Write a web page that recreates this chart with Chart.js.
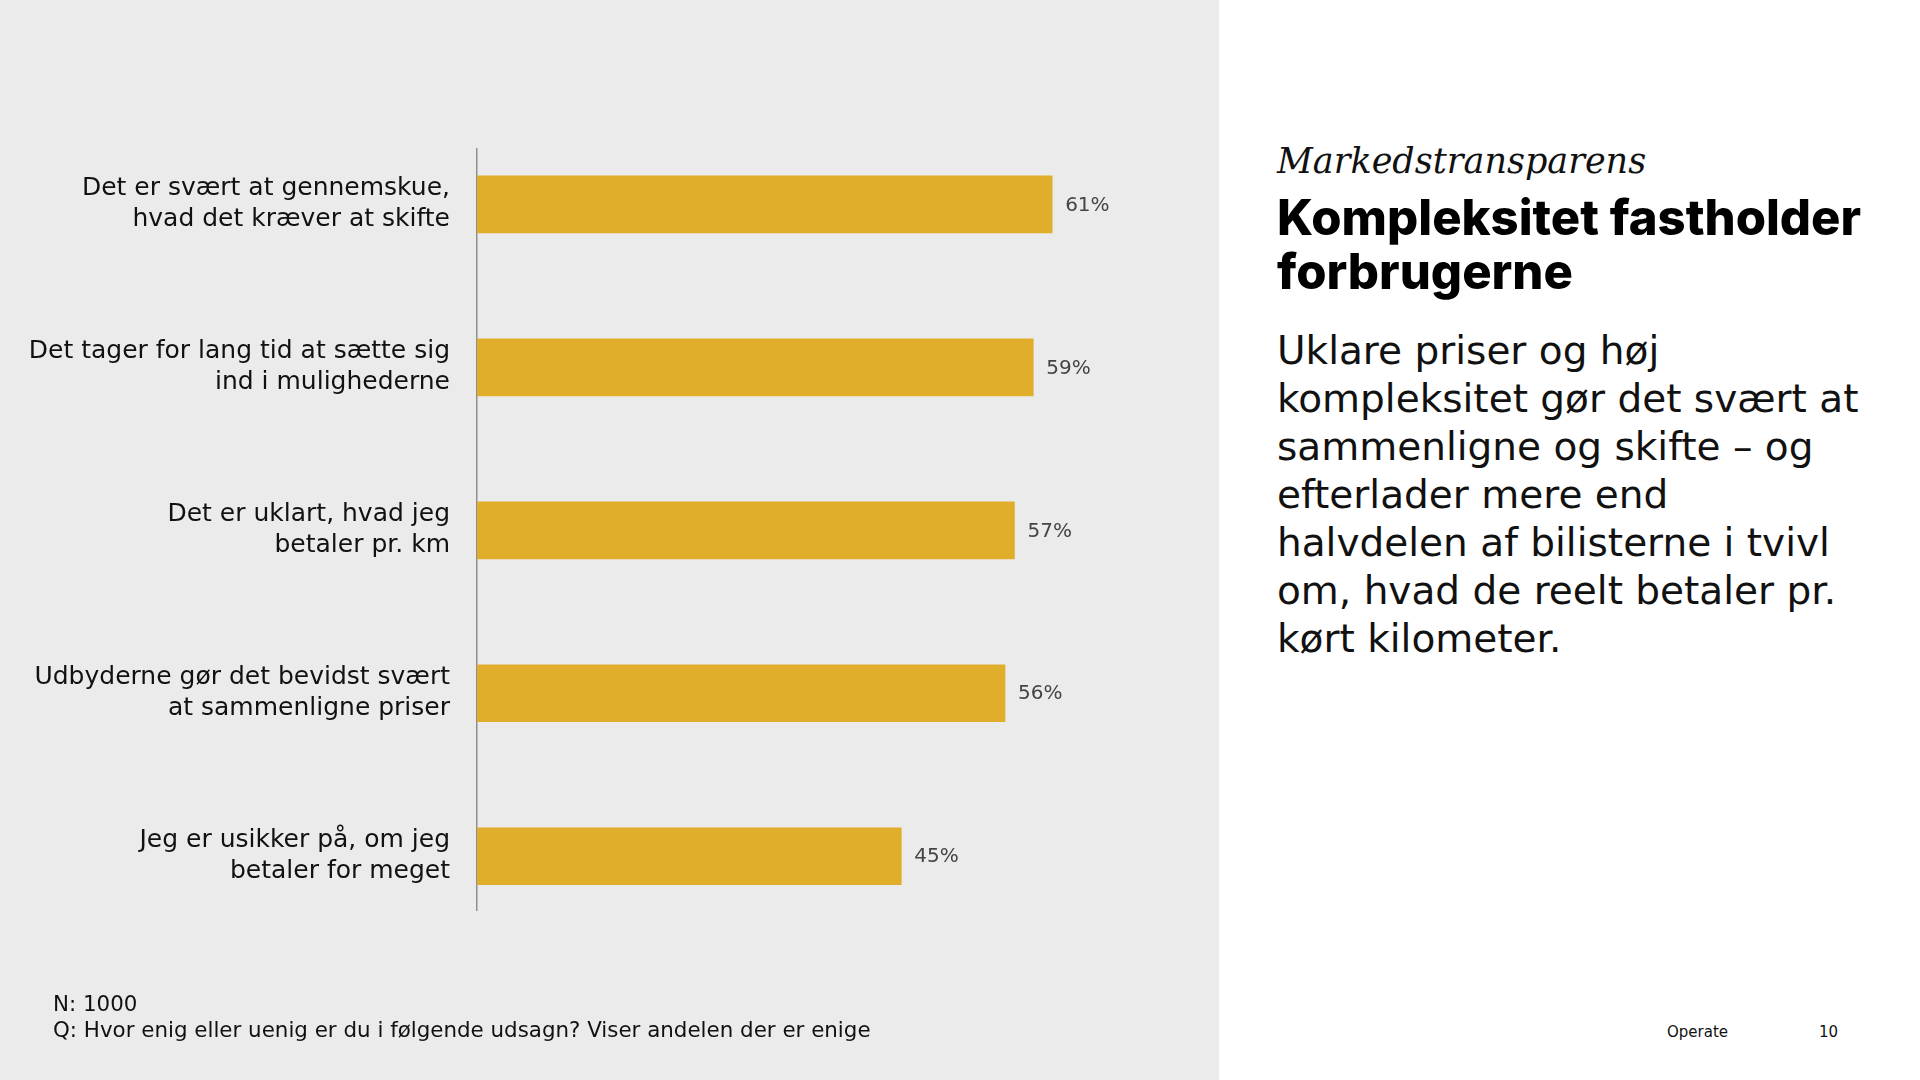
<!DOCTYPE html>
<html lang="da">
<head>
<meta charset="utf-8">
<title>Kompleksitet fastholder forbrugerne</title>
<script src="https://cdn.jsdelivr.net/npm/chart.js@4/dist/chart.umd.min.js"></script>
<style>
  html, body { margin: 0; padding: 0; }
  body { width: 1920px; height: 1080px; position: relative; background: #fff; overflow: hidden; color: #111; font-family: "DejaVu Sans", sans-serif; }
  #panel { position: absolute; left: 0; top: 0; width: 1219px; height: 1080px; background: #ebebeb; }
  #chartBox { position: absolute; left: 0; top: 0; width: 1219px; height: 1080px; }
  .txt { position: absolute; white-space: nowrap; }
  #kicker { left: 1277px; top: 141px; font-family: "DejaVu Serif", serif; font-style: italic; font-size: 35px; line-height: 40px; }
  #title { left: 1277px; top: 191px; font-family: Inter, sans-serif; font-weight: 800; font-size: 49px; line-height: 54px; color: #000; }
  #body { left: 1277px; top: 327px; font-size: 39px; line-height: 48px; }
  #note { left: 53px; top: 991px; font-size: 21.4px; line-height: 26px; }
  #brand { left: 1667px; top: 1022px; font-size: 15px; line-height: 20px; }
  #page { left: 1819px; top: 1022px; font-size: 15px; line-height: 20px; }
</style>
</head>
<body>
<div id="panel"><div id="chartBox"><canvas id="grafico"></canvas></div></div>

<div class="txt" id="kicker">Markedstransparens</div>
<div class="txt" id="title">Kompleksitet fastholder<br>forbrugerne</div>
<div class="txt" id="body">Uklare priser og høj<br>kompleksitet gør det svært at<br>sammenligne og skifte – og<br>efterlader mere end<br>halvdelen af bilisterne i tvivl<br>om, hvad de reelt betaler pr.<br>kørt kilometer.</div>
<div class="txt" id="note">N: 1000<br>Q: Hvor enig eller uenig er du i følgende udsagn? Viser andelen der er enige</div>
<div class="txt" id="brand">Operate</div>
<div class="txt" id="page">10</div>

<script>
const udsagn = [
    ['Det er svært at gennemskue,', 'hvad det kræver at skifte'],
    ['Det tager for lang tid at sætte sig', 'ind i mulighederne'],
    ['Det er uklart, hvad jeg', 'betaler pr. km'],
    ['Udbyderne gør det bevidst svært', 'at sammenligne priser'],
    ['Jeg er usikker på, om jeg', 'betaler for meget']
];
const andelEnige = [61, 59, 57, 56, 45];

const barColor = '#e0ae2a';

// skriver procenten til højre for hver bjælke
const procentLabels = {
    id: 'procentLabels',
    afterDatasetsDraw(chart) {
        const ctx = chart.ctx;
        const meta = chart.getDatasetMeta(0);
        ctx.save();
        ctx.font = '20px "DejaVu Sans"';
        ctx.fillStyle = '#444';
        ctx.textAlign = 'left';
        ctx.textBaseline = 'middle';
        meta.data.forEach((bar, i) => {
            ctx.fillText(andelEnige[i] + '%', bar.x + 13, bar.y + 1);
        });
        ctx.restore();
    }
};

const ctx = document.getElementById('grafico').getContext('2d');
new Chart(ctx, {
    type: 'bar',
    data: {
        datasets: [{
            data: andelEnige.map((v, i) => ({ x: v, y: i })),
            backgroundColor: barColor,
            borderWidth: 0,
            barThickness: 57
        }]
    },
    options: {
        indexAxis: 'y',
        responsive: true,
        maintainAspectRatio: false,
        animation: false,
        layout: { padding: { top: 149, bottom: 170, left: 0, right: 82 } },
        plugins: { legend: { display: false }, tooltip: { enabled: false } },
        scales: {
            x: { type: 'linear', min: 0, max: 70, display: false },
            y: {
                type: 'linear',
                bounds: 'data',
                offset: false,
                reverse: true,
                min: -0.34,
                max: 4.33,
                afterBuildTicks: (scale) => { scale.ticks = udsagn.map((_, i) => ({ value: i })); },
                afterFit: (scale) => { scale.width = 477; },
                grid: { display: false, drawTicks: false },
                border: { display: true, color: '#8f8f8f', width: 1.5 },
                ticks: {
                    autoSkip: false,
                    padding: 27,
                    color: '#111',
                    font: { family: 'DejaVu Sans', size: 25, lineHeight: 1.24 },
                    callback: (v) => udsagn[v] || ''
                }
            }
        }
    },
    plugins: [procentLabels]
});
</script>
</body>
</html>
